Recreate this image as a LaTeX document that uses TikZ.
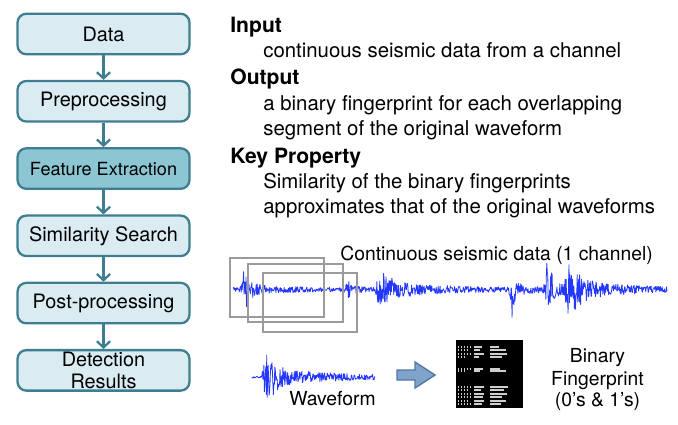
\documentclass[tikz,border=0pt]{standalone}
\usepackage{fontspec}
\setmainfont{TeX Gyre Heros}
\usepackage{tikz}
\usetikzlibrary{positioning, arrows.meta}
\usepackage{xcolor}
\definecolor{stageline}{RGB}{62,126,144}
\definecolor{stagefill}{RGB}{218,235,242}
\definecolor{stagehl}{RGB}{140,198,211}
\definecolor{seis}{RGB}{35,55,255}
\definecolor{wingray}{RGB}{155,155,155}
\definecolor{blkfill}{RGB}{126,164,204}
\definecolor{blkline}{RGB}{84,118,160}
\definecolor{fpmark}{RGB}{205,205,205}

\tikzset{
  stage/.style={draw=stageline, line width=1.3pt, fill=stagefill, rounded corners=5pt,
    minimum width=3.44cm, minimum height=0.81cm, inner sep=0pt, align=center,
    font=\fontsize{11.3}{13}\selectfont},
  flow/.style={-{Straight Barb[length=3.5pt,width=7.5pt]}, line width=1.3pt, draw=stageline},
  head/.style={anchor=base west, inner sep=0pt, font=\fontsize{12}{14}\bfseries},
  body/.style={anchor=base west, inner sep=0pt, font=\fontsize{11.6}{14}\selectfont},
  lbl/.style={inner sep=0pt, font=\fontsize{11}{13}\selectfont},
  wave/.style={draw=seis, line width=0.45pt, line join=round},
  win/.style={draw=wingray, line width=1.6pt},
  fmark/.style={draw=fpmark, line width=0.6pt}
}

\begin{document}
\begin{tikzpicture}[x=0.02cm, y=-0.02cm, node distance=0.49cm,
  declare function={ev(\vx,\vc,\va,\vd)=\va*exp(-min(40,(\vx<\vc)*(\vc-\vx)/1.2+(1-(\vx<\vc))*(\vx-\vc)/\vd));}]
\useasboundingbox (0,0) rectangle (678,424);

% pipeline
\node[stage] (data) at (103.5,34) {Data};
\node[stage, below=of data] (prep) {Preprocessing};
\node[stage, below=of prep, fill=stagehl, font=\fontsize{10.3}{12}\selectfont] (feat) {Feature Extraction};
\node[stage, below=of feat] (sim) {Similarity Search};
\node[stage, below=of sim] (post) {Post-processing};
\node[stage, below=of post] (det) {Detection\\Results};
\draw[flow] (data) -- (prep);
\draw[flow] (prep) -- (feat);
\draw[flow] (feat) -- (sim);
\draw[flow] (sim) -- (post);
\draw[flow] (post) -- (det);

% description
\node[head] (hin) at (230,32) {Input};
\node[body] (tin) at (263,57.5) {continuous seismic data from a channel};
\node[head] (hout) at (230,84) {Output};
\node[body] (tout1) at (263,110) {a binary fingerprint for each overlapping};
\node[body] (tout2) at (263,135) {segment of the original waveform};
\node[head] (hkey) at (230,163) {Key Property};
\node[body] (tkey1) at (263,188) {Similarity of the binary fingerprints};
\node[body] (tkey2) at (263,213) {approximates that of the original waveforms};

% continuous trace
\pgfmathsetseed{17}
\draw[wave] plot[samples=900, domain=233:667, variable=\xx]
  (\xx, {289.5 + ev(\xx,512,14,1.5) + rand*(2 + ev(\xx,244,22,5) + ev(\xx,246,3,40)
    + ev(\xx,347,8,7) + ev(\xx,378,16,10) + ev(\xx,382,8,45) + ev(\xx,512,12,3)
    + ev(\xx,514,4,20) + ev(\xx,547,32,6) + ev(\xx,567,29,8) + ev(\xx,572,9,45))});
\node[lbl, anchor=base west] (cont) at (340,260) {Continuous seismic data (1 channel)};
\draw[win] (230,258) rectangle (324,317);
\draw[win] (248,264) rectangle (343,322);
\draw[win] (263,273) rectangle (357,332);

% single waveform
\draw[wave] plot[samples=260, domain=252:375, variable=\xx]
  (\xx, {377 + rand*(1 + ev(\xx,265,40,5) + ev(\xx,268,8,25) + ev(\xx,268,4,140))});
\node[lbl, anchor=base west] (wf) at (289,405) {Waveform};

% block arrow
\draw[fill=blkfill, draw=blkline, line width=0.8pt]
  (397,370) -- (415,370) -- (415,362) -- (435,375) -- (415,388) -- (415,380) -- (397,380) -- cycle;

% fingerprint
\node[fill=black, minimum width=1.34cm, minimum height=1.36cm, inner sep=0pt] (fp) at (489.5,374) {};
\foreach \yy/\la/\lb/\lc in {347/12/8/9, 350/10/6/16, 354/12/10/17, 357/8/5/12,
    369/12/9/10, 371/6/6/16, 387/12/10/18, 390/10/7/14, 394/12/10/17,
    397/12/9/12, 401/10/10/16, 404/12/8/11}{
  \draw[fmark, dash pattern=on 0.8pt off 0.9pt] (458,\yy) -- ++(\la,0);
  \draw[fmark] (474,\yy) -- ++(\lb,0);
  \draw[fmark] (490,\yy) -- ++(\lc,0);
}
\node[lbl, anchor=base] (bin1) at (597.5,362) {Binary};
\node[lbl, anchor=base] (bin2) at (597.5,385) {Fingerprint};
\node[lbl, anchor=base] (bin3) at (597.5,406) {(0’s \& 1’s)};
\end{tikzpicture}
\end{document}
